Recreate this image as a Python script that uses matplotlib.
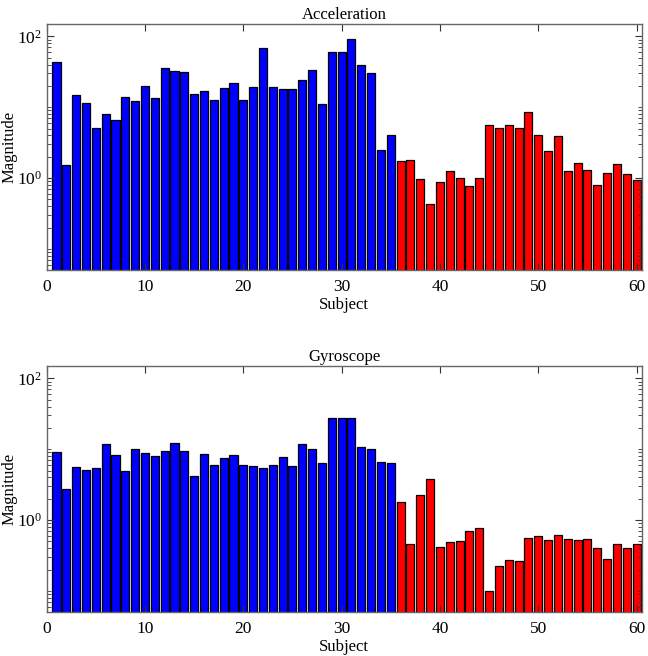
import numpy as np
from matplotlib import pyplot as plt
from matplotlib.ticker import FixedLocator, LogFormatterMathtext, NullFormatter

plt.rcParams['font.family'] = ['Liberation Serif', 'DejaVu Serif']
plt.rcParams['mathtext.fontset'] = 'custom'
plt.rcParams['mathtext.rm'] = 'Liberation Serif'

subjects = np.arange(1, 61)

acc = [43, 1.51, 14.9, 11.5, 5.14, 7.94, 6.67, 14.1, 12.1, 19.9,
       13.5, 35.5, 32.5, 31.1, 15.2, 16.8, 12.7, 18.9, 22.2, 12.7,
       19.5, 68.7, 19.1, 18.1, 17.9, 24.0, 33.2, 11.1, 59.7, 59.7,
       91.1, 39.5, 30.8, 2.46, 4.10, 1.74, 1.80, 0.97, 0.425, 0.87,
       1.27, 1.0, 0.78, 0.99, 5.61, 5.03, 5.55, 5.03, 8.65, 4.01,
       2.41, 3.96, 1.26, 1.63, 1.31, 0.80, 1.18, 1.58, 1.15, 0.95]

gyro = [9.02, 2.74, 5.66, 5.02, 5.36, 11.7, 8.28, 4.97, 10.05, 8.83,
        7.92, 9.52, 12.1, 9.52, 4.18, 8.55, 6.04, 7.50, 8.18, 5.91,
        5.72, 5.48, 5.91, 7.84, 5.85, 11.7, 10.2, 6.45, 27.2, 27.2,
        27.8, 10.8, 9.95, 6.52, 6.45, 1.80, 0.458, 2.28, 3.75, 0.411,
        0.489, 0.511, 0.692, 0.78, 0.10, 0.224, 0.270, 0.264, 0.551, 0.601,
        0.516, 0.621, 0.533, 0.528, 0.533, 0.398, 0.281, 0.458, 0.407, 0.453]

n_blue = 35  # first 35 subjects drawn in blue, rest red
colors = ['#0000ff' if s <= n_blue else '#ff0000' for s in subjects]

titles = ['Acceleration', 'Gyroscope']
series = [acc, gyro]

fig = plt.figure(figsize=(6.48, 6.56), dpi=100)
positions = [[0.072, 0.588, 0.918, 0.375], [0.072, 0.0666, 0.918, 0.375]]

minor = [v * 10.0 ** e for e in range(-2, 3) for v in range(1, 10)]
minor = [m for m in minor if m not in (1, 100)]

for pos, title, data in zip(positions, titles, series):
    ax = fig.add_axes(pos)
    ax.bar(subjects, data, width=0.82, color=colors,
           edgecolor='black', linewidth=0.9)
    ax.set_yscale('log')
    ax.set_ylim(0.05, 148)
    ax.set_xlim(0, 60.5)
    ax.set_xticks(np.arange(0, 61, 10))
    ax.yaxis.set_major_locator(FixedLocator([1, 100]))
    ax.yaxis.set_major_formatter(LogFormatterMathtext())
    ax.yaxis.set_minor_locator(FixedLocator(minor))
    ax.yaxis.set_minor_formatter(NullFormatter())
    ax.tick_params(which='both', direction='in', top=True, right=True,
                   labelsize=12.5, color='#333333')
    ax.tick_params(axis='x', pad=6)
    ax.tick_params(which='major', length=5)
    ax.tick_params(which='minor', length=3)
    for sp in ax.spines.values():
        sp.set_color('#666666')
        sp.set_linewidth(1.0)
    ax.set_title(title, fontsize=12, pad=4)
    ax.set_xlabel('Subject', fontsize=12, labelpad=2)
    ax.set_ylabel('Magnitude', fontsize=12)
    ax.yaxis.set_label_coords(-0.049, 0.5)

fig.savefig('out.png', dpi=100)
